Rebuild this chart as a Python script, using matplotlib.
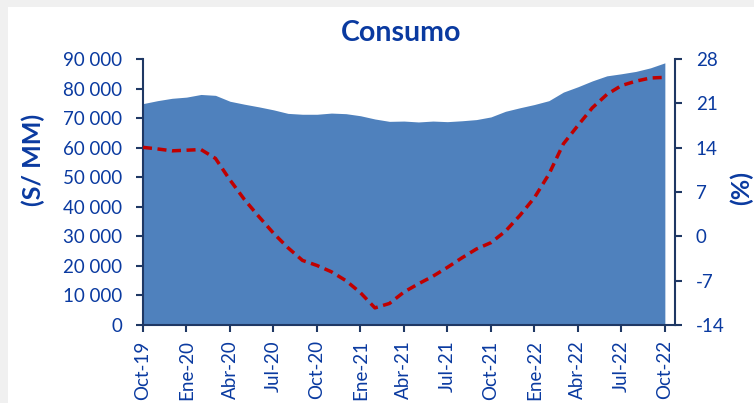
import numpy as np
import matplotlib.pyplot as plt
from matplotlib.patches import Rectangle
from matplotlib.ticker import FuncFormatter

# monthly values, Oct-19 .. Oct-22
consumo = [74900, 75900, 76700, 77100, 78000, 77700, 75700, 74700, 73800,
           72800, 71600, 71300, 71300, 71700, 71500, 70800, 69700, 68900,
           69000, 68700, 69000, 68800, 69100, 69500, 70400, 72300, 73500,
           74600, 75900, 78800, 80600, 82600, 84300, 85000, 85800, 87000,
           88700]
var_pct = [14.05, 13.8, 13.5, 13.6, 13.7, 12.3, 8.9, 5.8, 3.1, 0.5, -1.8,
           -3.8, -4.6, -5.6, -7.0, -8.9, -11.3, -10.6, -8.8, -7.5, -6.3,
           -4.9, -3.4, -2.0, -1.0, 0.8, 3.3, 6.1, 9.8, 14.6, 17.5, 20.3,
           22.4, 23.8, 24.5, 25.0, 25.1]
tick_labels = ["Oct-19", "Ene-20", "Abr-20", "Jul-20", "Oct-20", "Ene-21",
               "Abr-21", "Jul-21", "Oct-21", "Ene-22", "Abr-22", "Jul-22",
               "Oct-22"]

blue_txt = "#0a3aa0"
navy = "#1f3864"
area_col = "#4f81bd"
red = "#c00000"
font = "Lato"

fig = plt.figure(figsize=(7.54, 4.03), dpi=100, facecolor="#f0f0f0")
fig.patches.append(Rectangle((8 / 754, 0), 1, 1 - 7 / 403, transform=fig.transFigure,
                             facecolor="white", edgecolor="none", zorder=-5))

ax = fig.add_axes([143 / 754, 1 - 325 / 403, 532 / 754, 266 / 403])
ax.set_facecolor("none")
x = np.arange(len(consumo))
ax.fill_between(x, 0, consumo, color=area_col, linewidth=0, zorder=1)
ax.set_xlim(0, 36.7)
ax.set_ylim(0, 90000)
ax.set_yticks(np.arange(0, 90001, 10000))
ax.yaxis.set_major_formatter(FuncFormatter(lambda v, p: f"{int(v):,}".replace(",", " ")))
ax.set_xticks(np.arange(0, 37, 3))
ax.set_xticklabels(tick_labels, rotation=90)

ax2 = ax.twinx()
ax2.plot(x, var_pct, color=red, linewidth=2.5, dashes=(2.6, 1.6), zorder=3)
ax2.set_ylim(-14, 28)
ax2.set_yticks(np.arange(-14, 29, 7))
ax2.yaxis.set_major_formatter(FuncFormatter(lambda v, p: f"{int(round(v))}"))

for a in (ax, ax2):
    a.spines["top"].set_visible(False)
    for s in a.spines.values():
        s.set_color(navy)
        s.set_linewidth(1.5)
    a.tick_params(colors=navy, labelcolor=blue_txt, labelsize=13.5,
                  length=5, width=1.5, direction="out")
    a.tick_params(axis="y", pad=10)
    a.tick_params(axis="x", pad=6)
    for lab in a.get_xticklabels() + a.get_yticklabels():
        lab.set_fontfamily(font)
ax2.spines["left"].set_visible(False)
ax2.spines["bottom"].set_visible(False)
ax.spines["right"].set_visible(False)

fig.text(33 / 754, 1 - 160 / 403, "(S/ MM)", rotation=90, ha="center", va="center",
         fontsize=18, fontweight="bold", color=blue_txt, family=font)
fig.text(741 / 754, 1 - 188 / 403, "(%)", rotation=90, ha="center", va="center",
         fontsize=18, fontweight="bold", color=blue_txt, family=font)
fig.text(401 / 754, 1 - 33 / 403, "Consumo", ha="center", va="center",
         fontsize=20.5, fontweight="bold", color=blue_txt, family=font)

fig.savefig("out.png", dpi=100, facecolor=fig.get_facecolor())
